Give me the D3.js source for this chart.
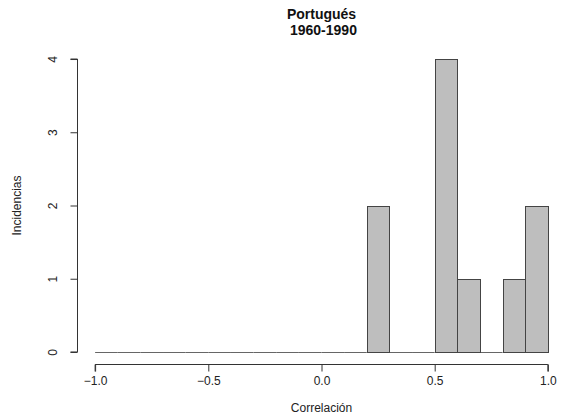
<!DOCTYPE html>
<html><head><meta charset="utf-8">
<script src="https://cdn.jsdelivr.net/npm/d3@7"></script>
<style>body{margin:0;background:#fff}svg{display:block}text{font-family:"Liberation Sans",Arial,sans-serif}</style>
</head><body>
<script>
const binStarts = [-1.0,-0.9,-0.8,-0.7,-0.6,-0.5,-0.4,-0.3,-0.2,-0.1,0.0,0.1,0.2,0.3,0.4,0.5,0.6,0.7,0.8,0.9];
const binWidth = 0.1;
const counts = [0,0,0,0,0,0,0,0,0,0,0,0,2,0,0,4,1,0,1,2];
const xTicks = [-1.0,-0.5,0.0,0.5,1.0];
const yTicks = [0,1,2,3,4];
const titleLines = ["Portugués", " 1960-1990"];
const xLabel = "Correlación";
const yLabel = "Incidencias";

const W = 574, H = 419;
const svg = d3.select("body").append("svg").attr("width", W).attr("height", H);
const plotL = 77, plotR = 566, plotT = 47.3, plotB = 363.7;
const x = d3.scaleLinear().domain([-1.08, 1.08]).range([plotL, plotR]);
const y = d3.scaleLinear().domain([-0.16, 4.16]).range([plotB, plotT]);
const bins = binStarts.map((s,i)=>({s, c:counts[i]}));

// empty bins: flat outline at the baseline
svg.append("g").selectAll("line").data(bins.filter(d => d.c === 0))
  .join("line")
  .attr("x1", d => x(d.s)).attr("x2", d => x(d.s + binWidth))
  .attr("y1", Math.round(y(0)) + 0.5).attr("y2", Math.round(y(0)) + 0.5)
  .attr("stroke", "#666").attr("stroke-width", 1);

// bars
svg.append("g").selectAll("rect").data(bins.filter(d => d.c > 0))
  .join("rect")
  .attr("x", d => Math.round(x(d.s)) + 0.5)
  .attr("width", d => Math.round(x(d.s + binWidth)) - Math.round(x(d.s)))
  .attr("y", d => Math.round(y(d.c)) + 0.5)
  .attr("height", d => Math.round(y(0)) - Math.round(y(d.c)))
  .attr("fill", "#bebebe")
  .attr("stroke", "#444")
  .attr("stroke-width", 1);

// x axis
const xAxis = svg.append("g").attr("transform", `translate(0,${Math.round(plotB)+0.5})`)
  .call(d3.axisBottom(x).tickValues(xTicks).tickFormat(d3.format(".1f")).tickSize(7).tickPadding(5));
xAxis.select(".domain").attr("d", `M${x(-1)},7V0H${x(1)}V7`).attr("stroke", "#333");
xAxis.selectAll(".tick line").attr("stroke", "#333");
xAxis.selectAll(".tick text").attr("font-size", 12).attr("fill", "#222")
  .style("font-family", '"Liberation Sans",Arial,sans-serif');

// y axis
const yAxis = svg.append("g").attr("transform", `translate(${plotL+0.5},0)`)
  .call(d3.axisLeft(y).tickValues(yTicks).tickFormat(d3.format("d")).tickSize(7).tickPadding(0));
yAxis.select(".domain").attr("d", `M-7,${y(4)}H0V${y(0)}H-7`).attr("stroke", "#333");
yAxis.selectAll(".tick line").attr("stroke", "#333");
yAxis.selectAll(".tick text").attr("font-size", 12).attr("fill", "#222")
  .attr("x", 0).attr("dy", null)
  .attr("text-anchor", "middle")
  .attr("transform", "translate(-25,0) rotate(-90)")
  .attr("dominant-baseline", "central")
  .style("font-family", '"Liberation Sans",Arial,sans-serif');

// titles
const cx = (plotL + plotR) / 2;
svg.append("text").attr("x", cx).attr("y", 19).attr("text-anchor", "middle")
  .attr("font-size", 14).attr("font-weight", "bold").attr("fill", "#111").text(titleLines[0]);
svg.append("text").attr("x", cx).attr("y", 35).attr("text-anchor", "middle")
  .attr("font-size", 14).attr("font-weight", "bold").attr("fill", "#111").style("white-space","pre").text(titleLines[1]);

svg.append("text").attr("x", cx).attr("y", 412).attr("text-anchor", "middle")
  .attr("font-size", 12).attr("fill", "#222").text(xLabel);
svg.append("text").attr("transform", `translate(21,${(plotT+plotB)/2}) rotate(-90)`)
  .attr("text-anchor", "middle").attr("font-size", 12).attr("fill", "#222").text(yLabel);
</script>
</body></html>
